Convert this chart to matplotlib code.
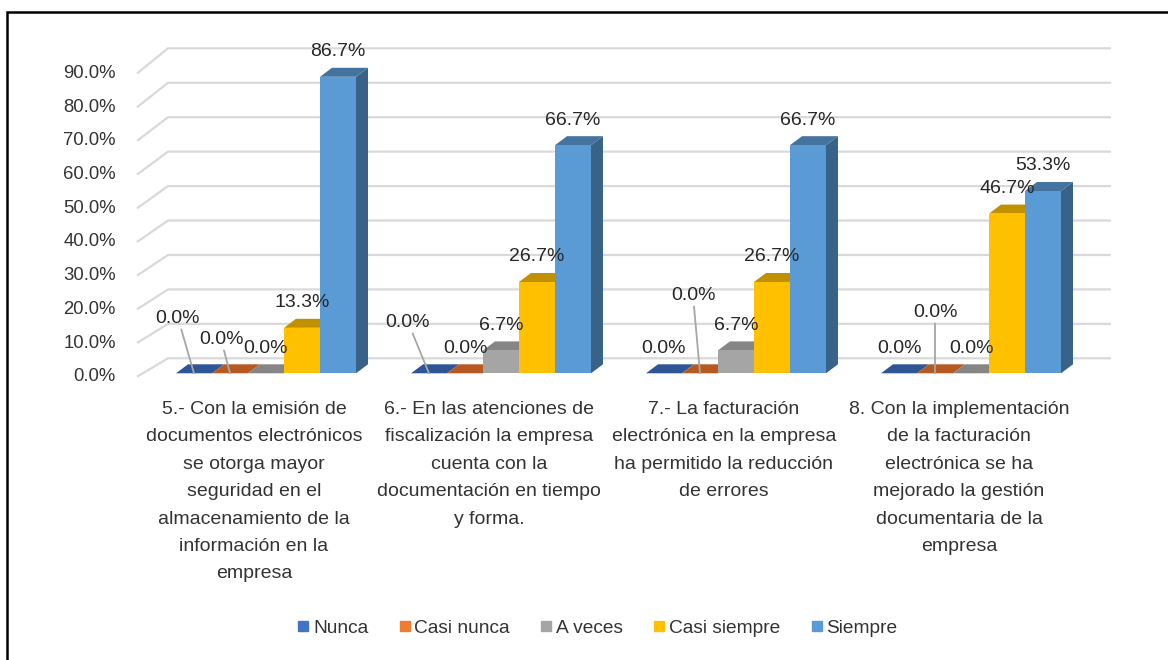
import matplotlib
matplotlib.use('Agg')
import matplotlib.pyplot as plt
from matplotlib.patches import Polygon, Rectangle
from matplotlib.lines import Line2D
import numpy as np

plt.rcParams['font.family'] = ['Liberation Sans', 'DejaVu Sans']

# data
categories = [
    "5.- Con la emisión de\ndocumentos electrónicos\nse otorga mayor\nseguridad en el\nalmacenamiento de la\ninformación en la\nempresa",
    "6.- En las atenciones de\nfiscalización la empresa\ncuenta con la\ndocumentación en tiempo\ny forma.",
    "7.- La facturación\nelectrónica en la empresa\nha permitido la reducción\nde errores",
    "8. Con la implementación\nde la facturación\nelectrónica se ha\nmejorado la gestión\ndocumentaria de la\nempresa",
]
series = ['Nunca', 'Casi nunca', 'A veces', 'Casi siempre', 'Siempre']
nunca = [0.0, 0.0, 0.0, 0.0]
casi_nunca = [0.0, 0.0, 0.0, 0.0]
a_veces = [0.0, 6.7, 6.7, 0.0]
casi_siempre = [13.3, 26.7, 26.7, 46.7]
siempre = [86.7, 66.7, 66.7, 53.3]
yticks = [0, 10, 20, 30, 40, 50, 60, 70, 80, 90]

values = [nunca, casi_nunca, a_veces, casi_siempre, siempre]

# styles
front_colors = ['#4472C4', '#ED7D31', '#A5A5A5', '#FFC000', '#5B9BD5']
top_colors = ['#2F5597', '#B65A22', '#858585', '#BF9000', '#44739F']
side_colors = ['#2F5496', '#B25A1F', '#7C7C7C', '#BF9000', '#386288']

# pixel scale of the drawing (1168 x 660 figure)
PX_CAT = 235.0      # pixels per category
PX_PCT = 3.42       # pixels per percent
X0, Y0 = 266.0, 373.3
W, H = 1168, 660

bw = 36 / PX_CAT             # bar width
ddx = 12 / PX_CAT            # bar depth
ddy = 9 / PX_PCT

fig = plt.figure(figsize=(W / 100, H / 100), dpi=100)
ax = fig.add_axes([0, 0, 1, 1])
ax.set_xlim(-X0 / PX_CAT, (W - X0) / PX_CAT)
ax.set_ylim(-(H - Y0) / PX_PCT, Y0 / PX_PCT)
ax.axis('off')

grid_c = '#D9D9D9'
x_front = (137 - X0) / PX_CAT
x_back = (168 - X0) / PX_CAT
x_back_r = (1111 - X0) / PX_CAT


def front_y(v):
    return -1.0 + 0.985 * v


def back_y(v):
    return 4.39 + 1.007 * v


for v in yticks:
    ax.plot([x_front, x_back, x_back_r], [front_y(v), back_y(v), back_y(v)],
            color=grid_c, lw=1.6, zorder=1, solid_capstyle='butt')
    ax.text((116 - X0) / PX_CAT, front_y(v), f'{v:.1f}%', ha='right', va='center',
            fontsize=13.3, color='#333333')

# bars with a fake 3D look
label_offsets = {(0, 0): (-16, 30), (0, 1): (-9, 9), (1, 0): (-21, 26),
                 (2, 1): (-7, 53), (3, 1): (0, 36)}
z = 2
for i in range(len(categories)):
    for j in range(len(series)):
        v = values[j][i]
        xc = i + (j - 2) * bw
        xl, xr = xc - bw / 2, xc + bw / 2
        if v > 0:
            ax.bar(xc, v, width=bw, color=front_colors[j], zorder=z + 1)
            ax.add_patch(Polygon([(xr, 0), (xr + ddx, ddy), (xr + ddx, v + ddy), (xr, v)],
                                 closed=True, fc=side_colors[j], ec='none', zorder=z))
        ax.add_patch(Polygon([(xl, v), (xl + ddx, v + ddy), (xr + ddx, v + ddy), (xr, v)],
                             closed=True, fc=top_colors[j], ec='none', zorder=z))
        z += 2

        dx, dy = label_offsets.get((i, j), (0, 0))
        tx = xc + dx / PX_CAT
        ty = v + 7.35 + dy / PX_PCT
        if (i, j) in label_offsets:
            ax.annotate(f'{v:.1f}%', xy=(xc, 0), xytext=(tx, ty), ha='center', va='center',
                        fontsize=14, color='#262626', zorder=100,
                        arrowprops=dict(arrowstyle='-', color='#A6A6A6', lw=1.3,
                                        shrinkA=0, shrinkB=0))
        else:
            ax.text(tx, ty, f'{v:.1f}%', ha='center', va='center', fontsize=14,
                    color='#262626', zorder=100)

# category labels
for i, cat in enumerate(categories):
    ax.text(i - 12 / PX_CAT, (Y0 - 401) / PX_PCT, cat, ha='center', va='top',
            fontsize=14, color='#333333', linespacing=1.8)

# legend
handles = [Line2D([], [], marker='s', linestyle='', color=c, markersize=7)
           for c in front_colors]
fig.legend(handles, series, loc='center', bbox_to_anchor=(598 / W, 1 - 628 / H), ncol=5,
           frameon=False, fontsize=13.8, handlelength=0.5, handletextpad=0.25,
           columnspacing=1.65, labelcolor='#333333')

# outer frame
fig.patches.append(Rectangle((7 / W, -0.1), 1.2, 1.1 - 12 / H, transform=fig.transFigure,
                             fill=False, ec='black', lw=1.8))

plt.savefig('out.png', dpi=100)
